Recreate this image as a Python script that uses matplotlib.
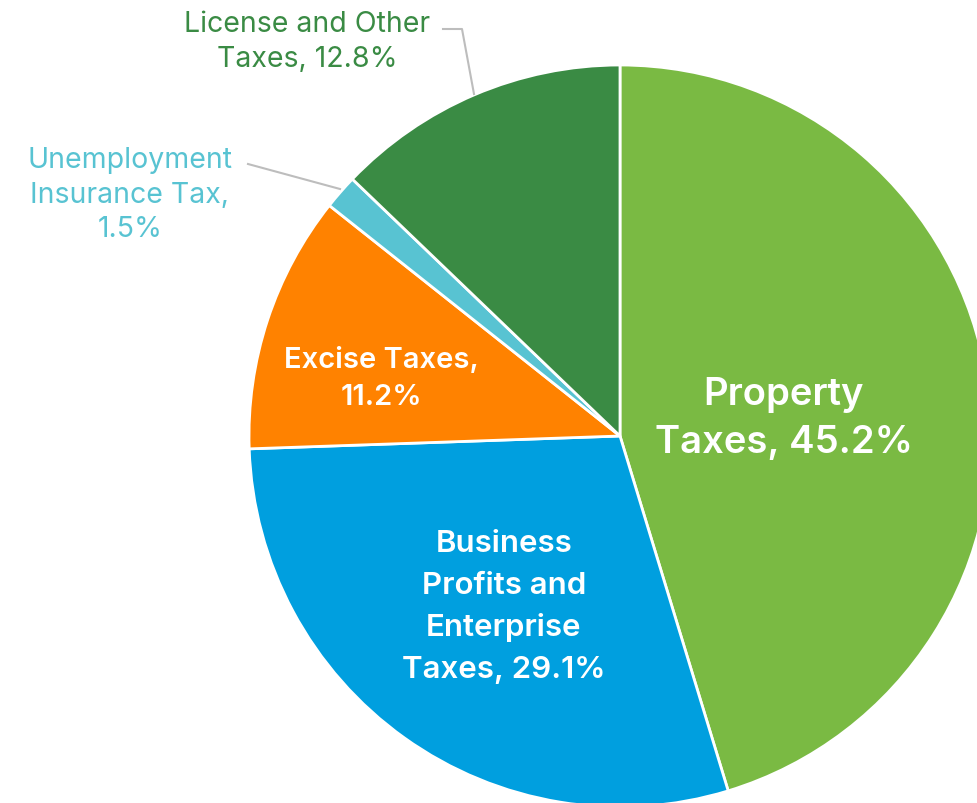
import matplotlib
matplotlib.use("Agg")
import matplotlib.pyplot as plt

categories = ["Property\nTaxes", "Business\nProfits and\nEnterprise\nTaxes", "Excise Taxes",
              "Unemployment\nInsurance Tax", "License and Other\nTaxes"]
shares = [45.2, 29.1, 11.2, 1.5, 12.8]
colors = ["#7aba43", "#009fdf", "#ff8200", "#58c3d2", "#3a8b44"]

plt.rcParams['font.family'] = ['Inter', 'DejaVu Sans']

W, H = 978, 804
fig = plt.figure(figsize=(W / 100, H / 100), dpi=100)
ax = fig.add_axes([0, 0, 1, 1])

cx, cy, r = 620, H - 437, 371
ax.pie(shares, colors=colors, startangle=90, counterclock=False,
       center=(cx, cy), radius=r, frame=True,
       wedgeprops=dict(edgecolor='white', linewidth=2))
ax.set_xlim(0, W)
ax.set_ylim(0, H)
ax.set_aspect('equal')
ax.axis('off')

def lab(i):
    name = categories[i]
    if i in (2, 3):
        return name + ",\n" + f"{shares[i]}%"
    return name + f", {shares[i]}%"

# labels inside the slices
ax.text(784, H - 419, lab(0), color='white', fontsize=27.5, fontweight='semibold',
        ha='center', va='center', linespacing=1.42)
ax.text(504, H - 607, lab(1), color='white', fontsize=22.5, fontweight='semibold',
        ha='center', va='center', linespacing=1.6)
ax.text(381, H - 379, lab(2), color='white', fontsize=21, fontweight='semibold',
        ha='center', va='center', linespacing=1.5)

# outside labels with leader lines
ax.text(307, H - 42, lab(4), color=colors[4], fontsize=20.5,
        ha='center', va='center', linespacing=1.36)
ax.plot([443, 462, 474], [H - 30, H - 30, H - 95], color='#bdbdbd', lw=1.5)
ax.text(130, H - 195, lab(3), color=colors[3], fontsize=20.5,
        ha='center', va='center', linespacing=1.36)
ax.plot([248, 340], [H - 165, H - 190], color='#bdbdbd', lw=1.5)

fig.savefig("out.png", dpi=100)
